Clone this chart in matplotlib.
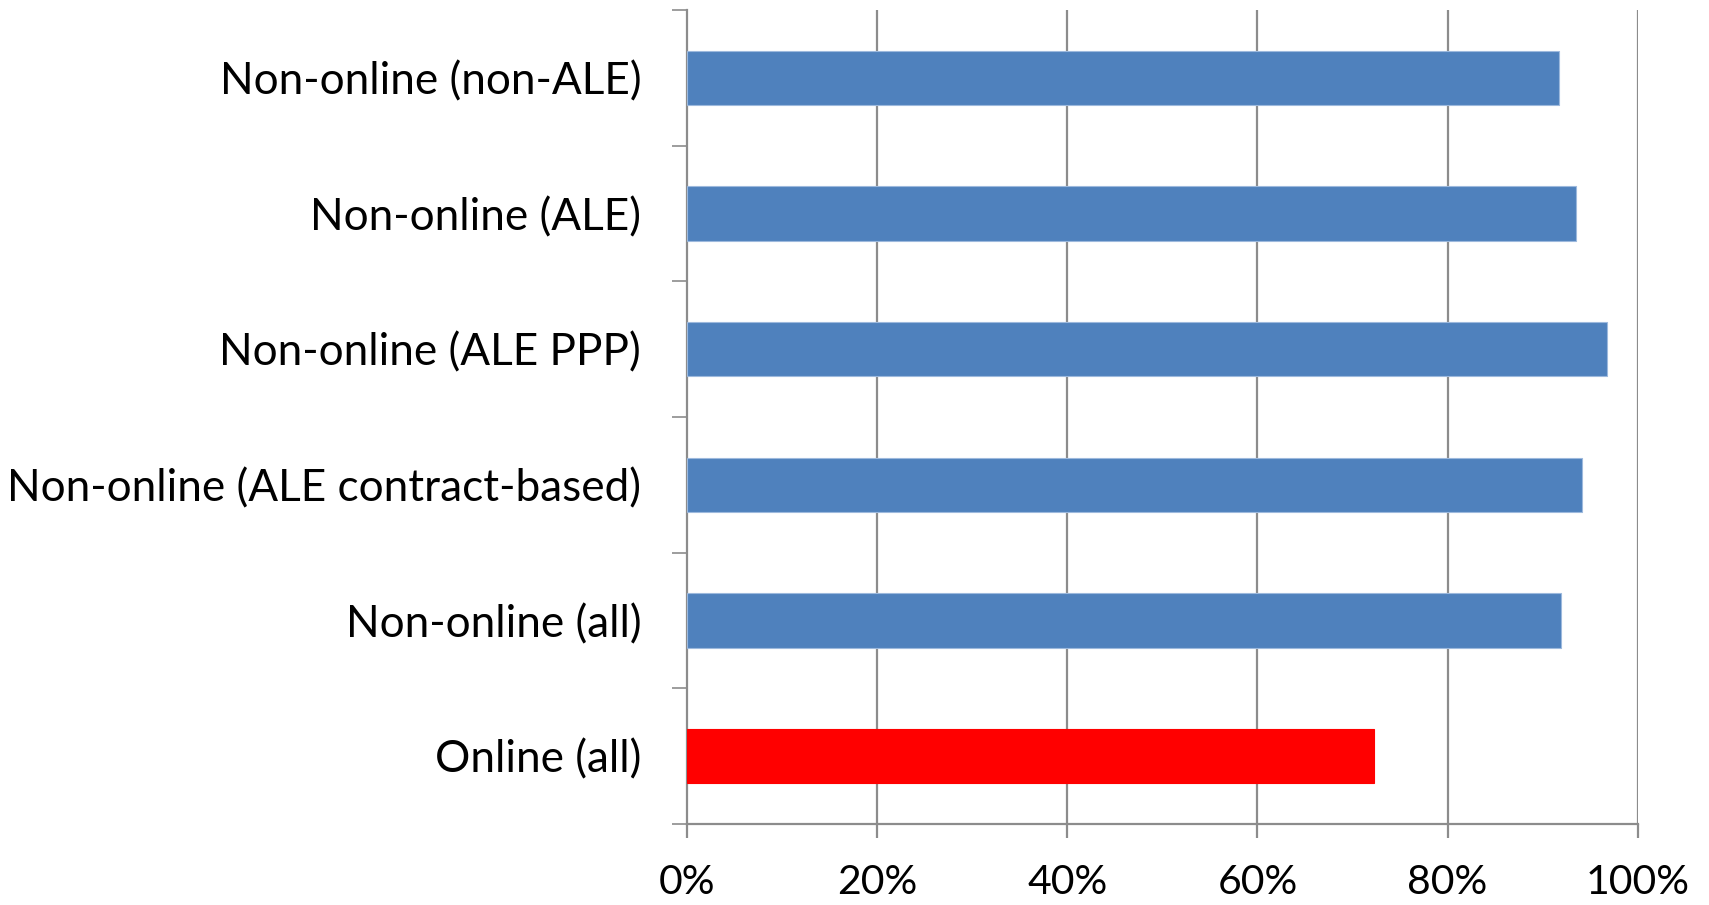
import matplotlib
matplotlib.use("Agg")
import matplotlib.pyplot as plt
import numpy as np
from matplotlib.ticker import FixedLocator

categories = ["Online (all)", "Non-online (all)", "Non-online (ALE contract-based)",
              "Non-online (ALE PPP)", "Non-online (ALE)", "Non-online (non-ALE)"]
values = [0.723, 0.919, 0.941, 0.968, 0.935, 0.917]
colors = ["#FF0000", "#4F81BD", "#4F81BD", "#4F81BD", "#4F81BD", "#4F81BD"]
xticks = [0, 0.2, 0.4, 0.6, 0.8, 1.0]
xticklabels = ["0%", "20%", "40%", "60%", "80%", "100%"]

plt.rcParams['font.family'] = ['Lato', 'DejaVu Sans']

fig = plt.figure(figsize=(17.09, 9.05), dpi=100)
ax = fig.add_axes([687/1709, 1-824/905, (1637.7-687)/1709, (824-10)/905])

y = np.arange(len(categories))
edges = ["#9DB9DD" if c != "#FF0000" else "#FF0000" for c in colors]
ax.barh(y, values, height=0.4, color=colors, edgecolor=edges, linewidth=0.8, zorder=3)

ax.set_xlim(0, 1.0)
ax.set_ylim(-0.5, len(categories) - 0.5)

gc = "#8C8C8C"
ax.set_xticks(xticks)
ax.set_xticklabels(xticklabels, fontsize=29.5)
for xv in xticks[1:]:
    ax.axvline(xv, color=gc, lw=1.6, zorder=1, ymax=1.0)

ax.set_yticks(y)
ax.set_yticklabels(categories, fontsize=31.8)
ax.yaxis.set_minor_locator(FixedLocator(np.arange(-0.5, len(categories), 1.0)))
ax.tick_params(axis='y', which='major', length=0, pad=33)
ax.tick_params(axis='y', which='minor', length=11, width=1.2, color=gc, direction='out')
ax.tick_params(axis='x', which='major', length=10, width=1.6, color=gc, direction='out', pad=19)

for s in ['top', 'right']:
    ax.spines[s].set_visible(False)
for s in ['left', 'bottom']:
    ax.spines[s].set_color(gc)
    ax.spines[s].set_linewidth(1.6)

fig.savefig("out.png", dpi=100)
